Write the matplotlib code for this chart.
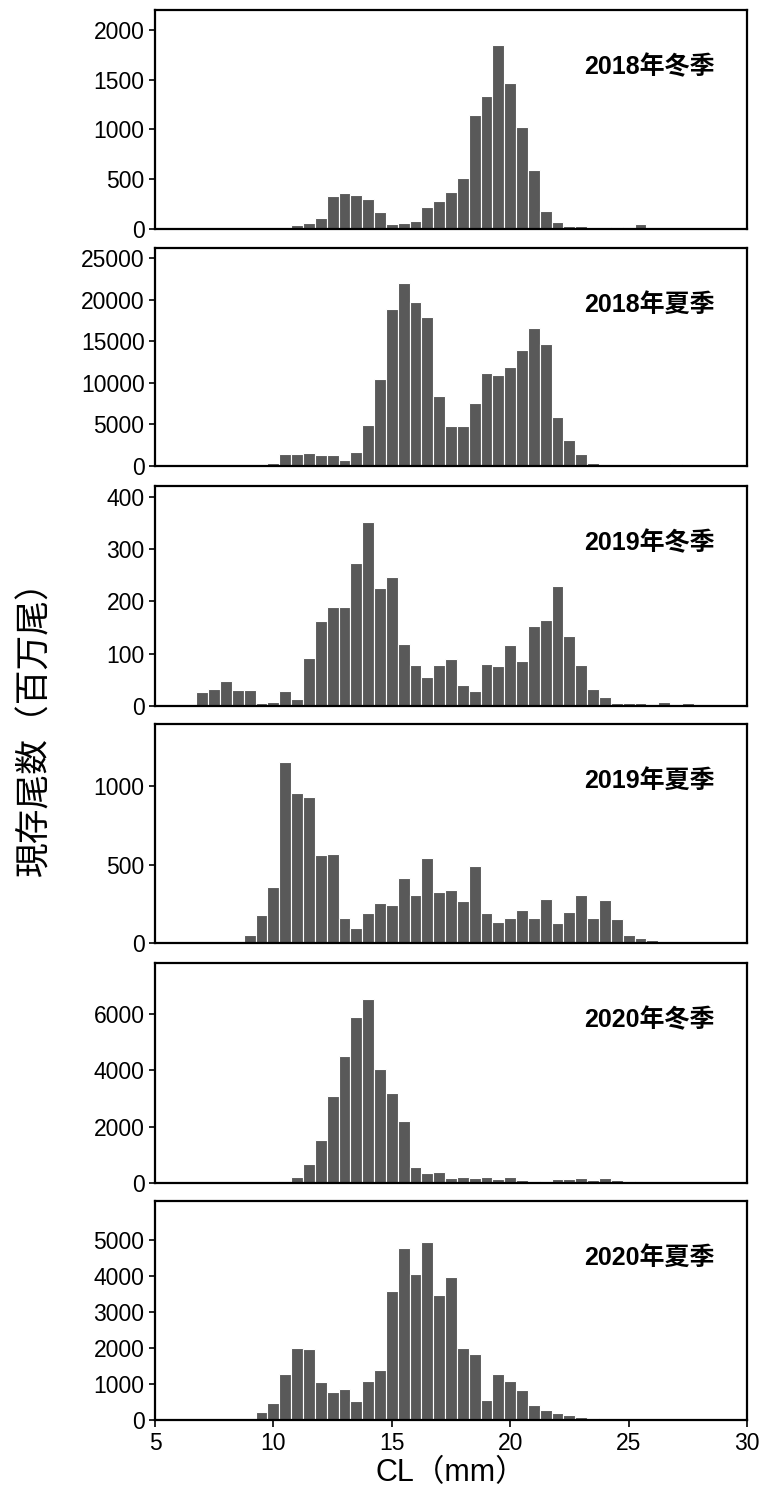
import matplotlib
matplotlib.use("Agg")
import matplotlib.pyplot as plt
import numpy as np

plt.rcParams['font.family'] = ['Liberation Sans', 'Noto Sans CJK JP', 'DejaVu Sans']

titles = ["2018年冬季", "2018年夏季", "2019年冬季", "2019年夏季", "2020年冬季", "2020年夏季"]

x_2018w = [11.0, 11.5, 12.0, 12.5, 13.0, 13.5, 14.0, 14.5, 15.0, 15.5, 16.0, 16.5, 17.0, 17.5, 18.0, 18.5,
           19.0, 19.5, 20.0, 20.5, 21.0, 21.5, 22.0, 22.5, 23.0, 24.5, 25.0, 25.5]
y_2018w = [37, 61, 115, 331, 358, 345, 300, 166, 47, 61, 78, 223, 284, 368, 517, 1149,
           1334, 1851, 1470, 1020, 591, 182, 68, 27, 27, 20, 20, 47]

x_2018s = [10.0, 10.5, 11.0, 11.5, 12.0, 12.5, 13.0, 13.5, 14.0, 14.5, 15.0, 15.5, 16.0, 16.5, 17.0, 17.5,
           18.0, 18.5, 19.0, 19.5, 20.0, 20.5, 21.0, 21.5, 22.0, 22.5, 23.0, 23.5, 24.0, 24.5, 25.5, 27.0]
y_2018s = [363, 1411, 1411, 1532, 1330, 1330, 726, 1653, 4960, 10484, 18871, 21976, 19677, 17944, 8387, 4758,
           4758, 7580, 11210, 10968, 11895, 13992, 16532, 14677, 5847, 3145, 1411, 363, 160, 80, 120, 240]

x_2019w = [7.0, 7.5, 8.0, 8.5, 9.0, 9.5, 10.0, 10.5, 11.0, 11.5, 12.0, 12.5, 13.0, 13.5, 14.0, 14.5, 15.0,
           15.5, 16.0, 16.5, 17.0, 17.5, 18.0, 18.5, 19.0, 19.5, 20.0, 20.5, 21.0, 21.5, 22.0, 22.5, 23.0,
           23.5, 24.0, 24.5, 25.0, 25.5, 26.5, 27.0, 27.5]
y_2019w = [27, 33, 47, 31, 31, 5, 8, 29, 14, 92, 162, 190, 190, 274, 353, 225, 246,
           119, 79, 55, 79, 90, 40, 29, 81, 77, 116, 87, 153, 164, 229, 134, 79,
           33, 18, 5, 6, 6, 8, 3, 6]

x_2019s = [9.0, 9.5, 10.0, 10.5, 11.0, 11.5, 12.0, 12.5, 13.0, 13.5, 14.0, 14.5, 15.0, 15.5, 16.0, 16.5,
           17.0, 17.5, 18.0, 18.5, 19.0, 19.5, 20.0, 20.5, 21.0, 21.5, 22.0, 22.5, 23.0, 23.5, 24.0, 24.5,
           25.0, 25.5, 26.0]
y_2019s = [49, 177, 354, 1154, 954, 930, 559, 570, 162, 95, 194, 255, 243, 414, 304, 540,
           327, 340, 268, 492, 188, 133, 162, 211, 162, 278, 127, 200, 304, 162, 272, 150,
           49, 34, 17]

x_2020w = [10.5, 11.0, 11.5, 12.0, 12.5, 13.0, 13.5, 14.0, 14.5, 15.0, 15.5, 16.0, 16.5, 17.0, 17.5, 18.0,
           18.5, 19.0, 19.5, 20.0, 20.5, 21.0, 21.5, 22.0, 22.5, 23.0, 23.5, 24.0, 24.5, 25.0]
y_2020w = [60, 202, 690, 1536, 3083, 4488, 5893, 6512, 4048, 3190, 2190, 583, 345, 405, 167, 202,
           167, 202, 131, 202, 95, 60, 60, 131, 131, 167, 95, 167, 95, 60]

x_2020s = [9.5, 10.0, 10.5, 11.0, 11.5, 12.0, 12.5, 13.0, 13.5, 14.0, 14.5, 15.0, 15.5, 16.0, 16.5, 17.0,
           17.5, 18.0, 18.5, 19.0, 19.5, 20.0, 20.5, 21.0, 21.5, 22.0, 22.5, 23.0, 23.5, 24.0]
y_2020s = [225, 459, 1288, 1991, 1964, 1045, 775, 847, 514, 1081, 1396, 3595, 4775, 4045, 4928, 3468,
           3964, 1991, 1838, 559, 1288, 1081, 820, 405, 288, 198, 126, 90, 45, 36]

xs = [x_2018w, x_2018s, x_2019w, x_2019s, x_2020w, x_2020s]
ys = [y_2018w, y_2018s, y_2019w, y_2019s, y_2020w, y_2020s]
ylims = [2200, 26200, 421, 1395, 7800, 6080]
yticks = [np.arange(0, 2001, 500), np.arange(0, 25001, 5000), np.arange(0, 401, 100),
          [0, 500, 1000], np.arange(0, 6001, 2000), np.arange(0, 5001, 1000)]

fig = plt.figure(figsize=(7.64, 15.08), dpi=100)
W, H = 764, 1508
tops = [10, 248, 486, 724, 963, 1201]
bots = [229, 466, 706, 943, 1183, 1420]
left, right = 155, 747
for i in range(6):
    ax = fig.add_axes([left / W, 1 - bots[i] / H, (right - left) / W, (bots[i] - tops[i]) / H])
    ax.bar(xs[i], ys[i], width=0.5, color='#595959', edgecolor='white', linewidth=0.8)
    ax.set_xlim(5, 30)
    ax.set_ylim(0, ylims[i])
    ax.set_yticks(yticks[i])
    ax.tick_params(axis='y', labelsize=16.5, length=4, width=1.2)
    for s in ax.spines.values():
        s.set_linewidth(1.6)
    if i < 5:
        ax.set_xticks([])
    else:
        ax.set_xticks([5, 10, 15, 20, 25, 30])
        ax.tick_params(axis='x', labelsize=16.5, length=5, width=1.2)
        ax.set_xlabel("CL（mm）", fontsize=22, family=['Liberation Sans', 'Noto Sans CJK JP'], labelpad=2)
    ax.text(0.945, 0.74, titles[i], transform=ax.transAxes, ha='right', va='center',
            fontsize=18, fontweight='bold', family=['Liberation Sans', 'Noto Sans CJK JP'])

fig.text(35 / W, 1 - 720 / H, "現存尾数（百万尾）", rotation=90, ha='center', va='center',
         fontsize=25, family=['Noto Sans CJK JP'])
fig.savefig("out.png", dpi=100)
